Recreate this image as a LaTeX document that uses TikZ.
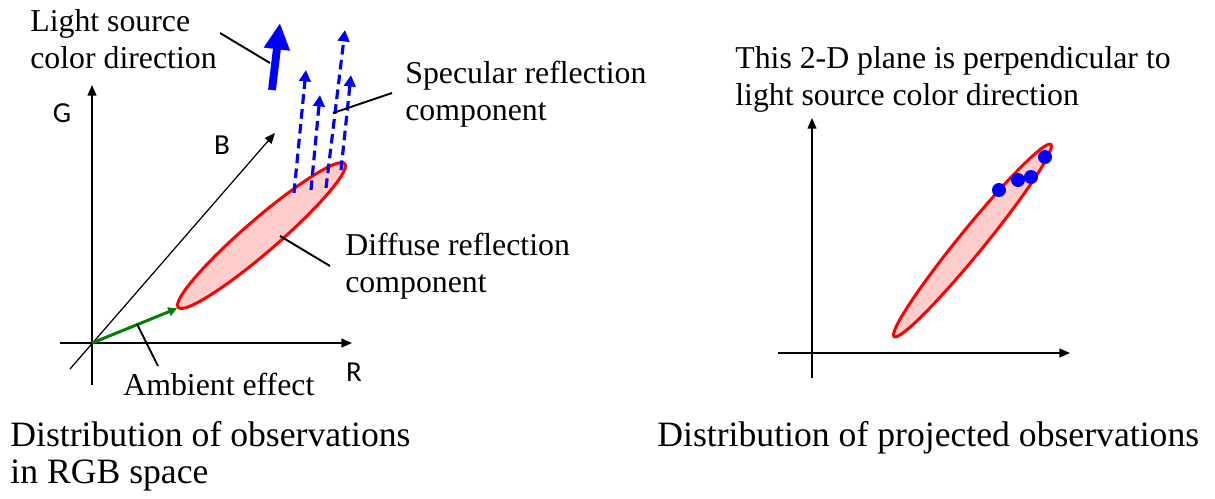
\documentclass[tikz,border=0pt]{standalone}
\usepackage{fontspec}
\setmainfont{Liberation Serif}
\newfontfamily\axisfont{Carlito}
\usepackage{xcolor}
\usetikzlibrary{shapes.geometric,arrows.meta,positioning,calc}
\definecolor{blobred}{RGB}{255,0,0}
\definecolor{blobfill}{RGB}{255,204,204}
\definecolor{rayblue}{RGB}{0,0,255}
\definecolor{ambgreen}{RGB}{0,128,0}

\begin{document}
\begin{tikzpicture}[x=0.02cm,y=-0.02cm,
    axis/.style={line width=0.85pt,-{Triangle[length=6pt,width=5pt]}},
    leader/.style={line width=1.1pt},
    label/.style={inner sep=0pt,anchor=base west,align=left,font=\fontsize{18.1}{21}\selectfont},
    caption/.style={inner sep=0pt,anchor=base west,align=left,font=\fontsize{20.3}{21}\selectfont},
    axislabel/.style={inner sep=0pt,font=\axisfont\fontsize{16.5}{18}\selectfont},
    blob/.style={ellipse,draw=blobred,fill=blobfill,line width=1.7pt,inner sep=0pt},
    ray/.style={rayblue,line width=1.8pt,dash pattern=on 5.5pt off 3pt,-{Triangle[length=6.5pt,width=6.5pt]}},
    dot/.style={circle,fill=rayblue,minimum size=0.28cm,inner sep=0pt}]
    \useasboundingbox (0,0) rectangle (1215,498);

    % left: observations in RGB space
    \coordinate (O) at (92,343);
    \coordinate (Gtip) at (92,85);
    \coordinate (Gend) at (92,385);
    \coordinate (Rtip) at (352,343);
    \coordinate (Rend) at (60,343);
    \coordinate (Btip) at (275,133);
    \coordinate (Bend) at (70,369);
    \draw[axis] (Gend) -- (Gtip);
    \draw[axis] (Rend) -- (Rtip);
    \draw[axis,line width=0.7pt] (Bend) -- (Btip);
    \node[axislabel] (G) at (62,113) {G};
    \node[axislabel] (B) at (222,145) {B};
    \node[axislabel] (R) at (354,372) {R};

    \node[blob,minimum width=4.4cm,minimum height=0.66cm,rotate=40.8] (diffuse) at (261.5,235.5) {};
    \draw[ambgreen,line width=1.7pt,-{Triangle[length=5pt,width=5pt]}] (O) -- (diffuse.west);

    \coordinate (s1) at (294,193);  \coordinate (t1) at (306,70);
    \coordinate (s2) at (311,190);  \coordinate (t2) at (320,95);
    \coordinate (s3) at (326,188);  \coordinate (t3) at (345,30);
    \coordinate (s4) at (341,170);  \coordinate (t4) at (351,75);
    \foreach \i in {1,...,4}
        \draw[ray] (s\i) -- (t\i);

    \coordinate (lsbot) at (272,90);
    \coordinate (lstop) at (280,23);
    \draw[rayblue,line width=4.5pt,-{Triangle[length=15pt,width=14pt]}] (lsbot) -- (lstop);

    % multi-line labels sit on the baseline of their last line
    \node[label] (lighttxt) at (30,68) {Light source\\color direction};
    \node[label] (spectxt) at (405,120) {Specular reflection\\component};
    \node[label] (difftxt) at (345,292) {Diffuse reflection\\component};
    \node[label] (ambtxt) at (123,395) {Ambient effect};
    \draw[leader] (220,33) coordinate (l1) -- (270,63) coordinate (l2);
    \draw[leader] (392,93) coordinate (sp1) -- (333,113) coordinate (sp2);
    \draw[leader] (280,236) coordinate (d1) -- (330,266) coordinate (d2);
    \draw[leader] (137,324) coordinate (a1) -- (158,366) coordinate (a2);

    \node[caption] (lcap) at (10,483) {Distribution of observations\\in RGB space};

    % right: projected observations
    \coordinate (P) at (812,353);
    \draw[axis] (812,378) coordinate (Vend) -- (812,118) coordinate (Vtip);
    \draw[axis] (778,353) coordinate (Hend) -- (1070,353) coordinate (Htip);
    \node[blob,minimum width=4.96cm,minimum height=0.5cm,rotate=50.8] (proj) at (972.5,240.5) {};
    \node[dot] (p1) at (999,190) {};
    \node[dot] (p2) at (1018,180) {};
    \node[dot] (p3) at (1031,177) {};
    \node[dot] (p4) at (1045,157) {};

    \node[label] (planetxt) at (735,105) {This 2-D plane is perpendicular to\\light source color direction};
    \node[caption] (rcap) at (657,446) {Distribution of projected observations};
\end{tikzpicture}
\end{document}
